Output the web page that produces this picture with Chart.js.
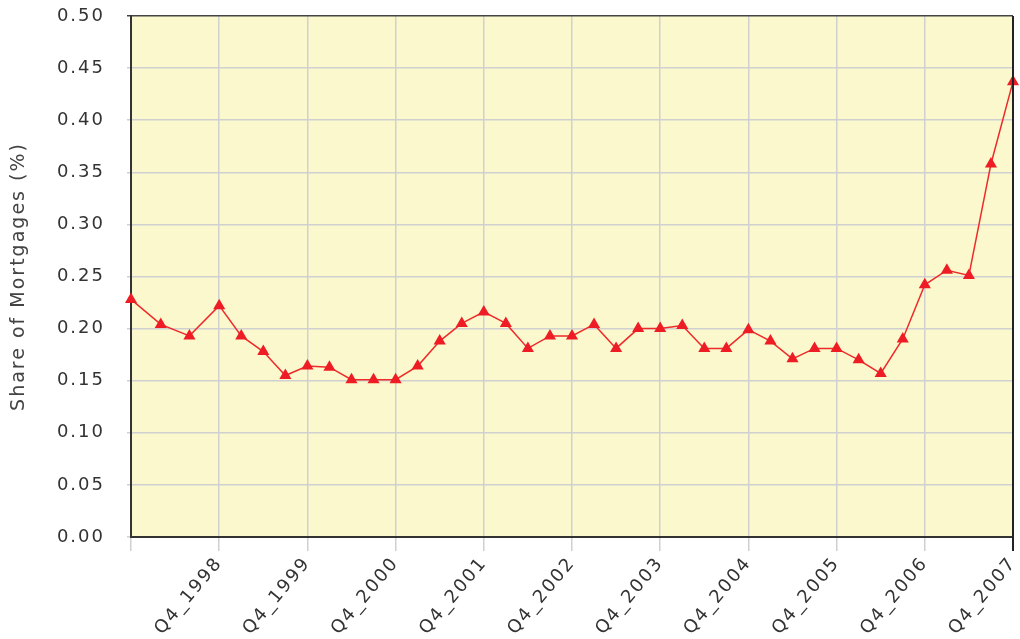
<!DOCTYPE html>
<html>
<head>
<meta charset="utf-8">
<script src="https://cdn.jsdelivr.net/npm/chart.js@4.4.1/dist/chart.umd.min.js"></script>
<style>
  body { margin: 0; background: #fff; }
  #wrap { width: 1020px; height: 639px; }
</style>
</head>
<body>
<div id="wrap"><canvas id="chart1" width="1020" height="639"></canvas></div>
<script>
// quarter index from Q4_1997 (0) to Q4_2007 (40)
const quarterPos = [0, 1.35, 2.65, 4, 5, 6, 7, 8, 9, 10, 11, 12, 13, 14, 15, 16,
  17, 18, 19, 20, 21, 22, 23, 24, 25, 26, 27, 28, 29, 30, 31, 32, 33, 34, 35, 36,
  37, 38, 39, 40];
const shareValues = [0.228, 0.204, 0.193, 0.222, 0.193, 0.178, 0.155, 0.164, 0.163, 0.151,
  0.151, 0.151, 0.164, 0.188, 0.205, 0.216, 0.205, 0.181, 0.193, 0.193,
  0.204, 0.181, 0.200, 0.200, 0.203, 0.181, 0.181, 0.199, 0.188, 0.171,
  0.181, 0.181, 0.170, 0.157, 0.190, 0.242, 0.256, 0.251, 0.358, 0.437];
const xTickLabels = ['', 'Q4_1998', 'Q4_1999', 'Q4_2000', 'Q4_2001', 'Q4_2002',
  'Q4_2003', 'Q4_2004', 'Q4_2005', 'Q4_2006', 'Q4_2007'];
const yTitle = 'Share of Mortgages (%)';

const points = quarterPos.map(function(q, i) { return { x: q, y: shareValues[i] }; });

// plot background + dark right edge, and wider text spacing like the original
const framePlugin = {
  id: 'frame',
  beforeLayout: function(chart) { chart.ctx.letterSpacing = '2px'; },
  beforeDraw: function(chart) {
    const a = chart.chartArea, ctx = chart.ctx;
    ctx.letterSpacing = '2px';
    ctx.save();
    ctx.fillStyle = '#faf8cc';
    ctx.fillRect(a.left, a.top, a.right - a.left, a.bottom - a.top);
    ctx.restore();
  },
  afterDatasetsDraw: function(chart) {
    const a = chart.chartArea, ctx = chart.ctx;
    ctx.save();
    ctx.strokeStyle = '#222';
    ctx.lineWidth = 2;
    ctx.beginPath();
    ctx.moveTo(a.right, a.top);
    ctx.lineTo(a.right, a.bottom + 14);
    ctx.stroke();
    ctx.restore();
  }
};

new Chart(document.getElementById('chart1'), {
  type: 'line',
  data: {
    datasets: [{
      label: yTitle,
      data: points,
      borderColor: '#ee2a2a',
      borderWidth: 1.5,
      backgroundColor: '#ee1c24',
      pointStyle: 'triangle',
      pointRadius: 7,
      pointBorderWidth: 0,
      pointBackgroundColor: '#ee1c24',
      tension: 0,
      clip: false
    }]
  },
  options: {
    animation: false,
    responsive: false,
    maintainAspectRatio: false,
    layout: { padding: { top: 16, right: 3, left: 0, bottom: 0 } },
    plugins: { legend: { display: false }, tooltip: { enabled: false } },
    scales: {
      x: {
        type: 'linear',
        min: 0,
        max: 40,
        afterBuildTicks: function(scale) {
          scale.ticks = xTickLabels.map(function(l, i) { return { value: i * 4 }; });
        },
        afterFit: function(scale) {
          scale.height = 102;
          scale.paddingLeft = 0;
          scale.paddingRight = 0;
        },
        ticks: {
          callback: function(v, i) { return xTickLabels[i]; },
          minRotation: 50,
          maxRotation: 50,
          padding: 2,
          color: '#333',
          font: { family: 'DejaVu Sans', size: 18 }
        },
        grid: {
          color: function(c) { return c.tick && c.tick.value === 40 ? '#222' : '#d0d0d0'; },
          lineWidth: 1.5,
          tickLength: 14
        },
        border: { color: '#333', width: 2 }
      },
      y: {
        min: 0,
        max: 0.5,
        afterFit: function(scale) {
          scale.width = 131;
          scale.paddingTop = 0;
          scale.paddingBottom = 0;
        },
        ticks: {
          stepSize: 0.05,
          callback: function(v) { return v.toFixed(2); },
          padding: 22,
          color: '#333',
          font: { family: 'DejaVu Sans', size: 18 }
        },
        grid: {
          color: function(c) { return c.tick && c.tick.value === 0.5 ? '#444' : '#d0d0d0'; },
          lineWidth: 1.5,
          tickLength: 4
        },
        border: { color: '#333', width: 2 },
        title: {
          display: true,
          text: yTitle,
          color: '#444',
          padding: { top: 8, bottom: 0 },
          font: { family: 'DejaVu Sans', size: 19 }
        }
      }
    }
  },
  plugins: [framePlugin]
});
</script>
</body>
</html>
